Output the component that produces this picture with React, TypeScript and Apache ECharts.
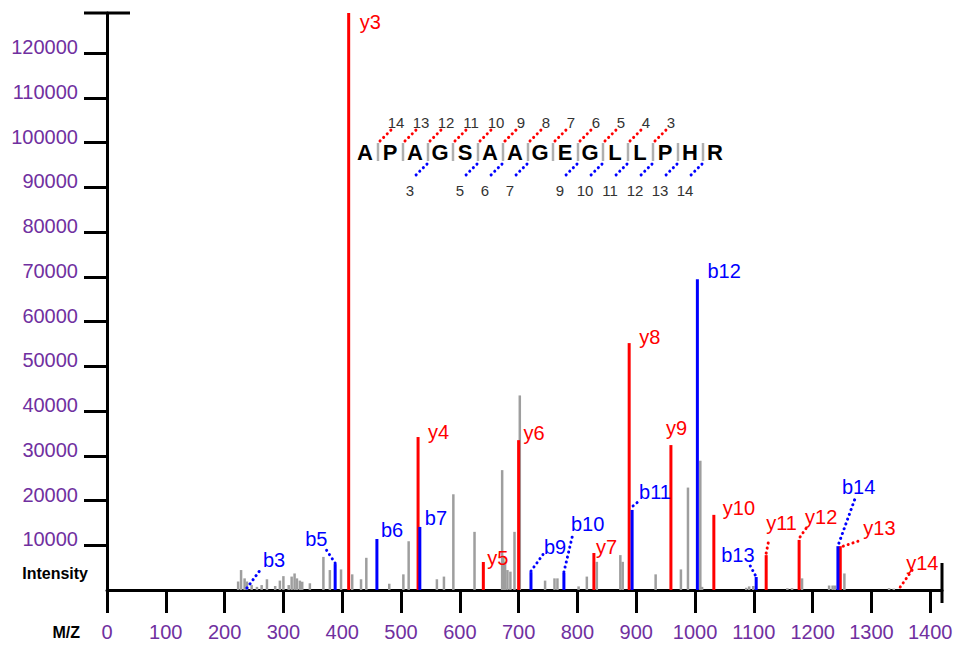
import React, { useEffect, useRef } from 'react';
import * as echarts from 'echarts';

// ---------- data ----------
const xTickValues = [0, 100, 200, 300, 400, 500, 600, 700, 800, 900, 1000, 1100, 1200, 1300, 1400];
const yTickValues = [10000, 20000, 30000, 40000, 50000, 60000, 70000, 80000, 90000, 100000, 110000, 120000];

const grayMz = [
  223, 228, 234, 238, 246, 255, 263, 272, 286, 294, 300, 309, 314, 319, 323, 328, 332, 345, 368, 379,
  398, 417, 432, 441, 480, 504, 513, 561, 573, 589, 625,
  672, 674, 677, 681, 686, 693, 702, 745, 761, 766,
  802, 816, 833, 873, 877, 933, 976, 988, 1009, 1012,
  1087, 1092, 1099, 1157, 1165, 1182, 1228, 1234, 1238, 1254, 1330, 1338,
];
const grayIntensity = [
  1900, 4460, 2600, 1900, 1100, 700, 1100, 2400, 900, 2100, 3100, 1100, 3000, 3700, 2600, 2100, 1850, 1500, 7400, 4460,
  4600, 3500, 2400, 7200, 1400, 3500, 10900, 2400, 3000, 21400, 13000,
  26800, 7400, 6300, 4460, 4100, 13000, 43500, 2100, 2600, 2600,
  800, 3000, 6300, 7800, 6300, 3500, 4600, 22900, 28900, 700,
  500, 800, 900, 400, 400, 2600, 1000, 1000, 1000, 3700, 400, 300,
];

const yIonNames = ['y3', 'y4', 'y5', 'y6', 'y7', 'y8', 'y9', 'y10', 'y11', 'y12', 'y13', 'y14'];
const yIonMz = [411, 529, 640, 700, 828, 888, 959, 1032, 1121, 1177, 1247, 1349];
const yIonIntensity = [129000, 34200, 6260, 33500, 8270, 55200, 32400, 16800, 7800, 11200, 9800, 0];

const bIonNames = ['b3', 'b5', 'b6', 'b7', 'b9', 'b10', 'b11', 'b12', 'b13', 'b14'];
const bIonMz = [238, 388, 459, 532, 721, 777, 893, 1004, 1104, 1243];
const bIonIntensity = [0, 5800, 11400, 14100, 4000, 3800, 17900, 69500, 2900, 9800];

const sequence = ['A', 'P', 'A', 'G', 'S', 'A', 'A', 'G', 'E', 'G', 'L', 'L', 'P', 'H', 'R'];
// fragment numbers at each cleavage site (between residue k and k+1)
const ySiteNumbers = [14, 13, 12, 11, 10, 9, 8, 7, 6, 5, 4, 3, null, null];
const bSiteNumbers = [null, null, 3, null, 5, 6, 7, null, 9, 10, 11, 12, 13, 14];

// ---------- label layout (pixel offsets from the peak top) ----------
const ionLabelLayout: Record<string, { dx: number; dy: number; leader?: number[] }> = {
  y3: { dx: 11, dy: 9 },
  y4: { dx: 10, dy: -5 },
  y5: { dx: 4, dy: -4 },
  y6: { dx: 5, dy: -7 },
  y7: { dx: 2, dy: -6 },
  y8: { dx: 10, dy: -6 },
  y9: { dx: -5, dy: -17 },
  y10: { dx: 9, dy: -7 },
  y11: { dx: 0, dy: -32, leader: [0, -2, 3, -17] },
  y12: { dx: 6, dy: -23, leader: [1, -3, 8, -13] },
  y13: { dx: 23, dy: -18, leader: [3, 0, 21, -6] },
  y14: { dx: 6, dy: -27, leader: [0, -3, 12, -20] },
  b3: { dx: 16, dy: -30, leader: [0, -2, 14, -21] },
  b5: { dx: -30, dy: -25, leader: [0, -1, -10, -16] },
  b6: { dx: 4, dy: -9 },
  b7: { dx: 5, dy: -9 },
  b9: { dx: 13, dy: -25, leader: [0, -1, 13, -19] },
  b10: { dx: 7, dy: -49, leader: [0, -1, 9, -39] },
  b11: { dx: 7, dy: -18, leader: [1, -4, 7, -9] },
  b12: { dx: 10, dy: -8 },
  b13: { dx: -35, dy: -22, leader: [-1, -2, -8, -15] },
  b14: { dx: 4, dy: -59, leader: [1, -3, 18, -50] },
};

const FONT = '"Liberation Sans", Arial, Helvetica, sans-serif';
const PURPLE = '#7030a0';
const RED = '#ff0000';
const BLUE = '#0000ff';
const GRAY = '#9e9e9e';

function ionRenderer(names: string[], color: string) {
  return (params: any, api: any) => {
    const i = params.dataIndex;
    const mz = api.value(0);
    const inten = api.value(1);
    const top = api.coord([mz, inten]);
    const base = api.coord([mz, 0]);
    const name = names[i];
    const lay = ionLabelLayout[name];
    const children: any[] = [
      {
        type: 'rect',
        shape: { x: top[0] - 1.5, y: top[1], width: 3, height: base[1] - top[1] },
        style: { fill: color },
      },
      {
        type: 'text',
        x: top[0] + lay.dx,
        y: top[1] + lay.dy,
        style: { text: name, fill: color, font: `20px ${FONT}`, align: 'left', verticalAlign: 'middle' },
      },
    ];
    if (lay.leader) {
      children.push({
        type: 'line',
        shape: {
          x1: top[0] + lay.leader[0],
          y1: top[1] + lay.leader[1],
          x2: top[0] + lay.leader[2],
          y2: top[1] + lay.leader[3],
        },
        style: { stroke: color, lineWidth: 3, lineDash: [0.1, 5], lineCap: 'round' },
      });
    }
    return { type: 'group', children };
  };
}

function grayRenderer(params: any, api: any) {
  const mz = api.value(0);
  const top = api.coord([mz, api.value(1)]);
  const base = api.coord([mz, 0]);
  return {
    type: 'rect',
    shape: { x: top[0] - 1.25, y: top[1], width: 2.5, height: base[1] - top[1] },
    style: { fill: GRAY },
  };
}

function peptideGraphic(): any[] {
  const x0 = 365;
  const step = 25;
  const cy = 152;
  const els: any[] = [];
  sequence.forEach((aa, i) => {
    els.push({
      type: 'text',
      x: x0 + i * step,
      y: cy,
      style: { text: aa, font: `bold 22px ${FONT}`, fill: '#000', align: 'center', verticalAlign: 'middle' },
    });
  });
  for (let k = 0; k < sequence.length - 1; k++) {
    const sx = x0 + k * step + 13;
    els.push({
      type: 'line',
      shape: { x1: sx, y1: 143, x2: sx, y2: 161 },
      style: { stroke: '#b0b0b0', lineWidth: 2.5 },
    });
    const yn = ySiteNumbers[k];
    if (yn !== null) {
      els.push({
        type: 'line',
        shape: { x1: sx + 2, y1: 141, x2: sx + 15, y2: 128 },
        style: { stroke: RED, lineWidth: 3, lineDash: [0.1, 5], lineCap: 'round' },
      });
      els.push({
        type: 'text',
        x: sx + 18,
        y: 122,
        style: { text: String(yn), font: `15px ${FONT}`, fill: '#333', align: 'center', verticalAlign: 'middle' },
      });
    }
    const bn = bSiteNumbers[k];
    if (bn !== null) {
      els.push({
        type: 'line',
        shape: { x1: sx - 1, y1: 164, x2: sx - 15, y2: 178 },
        style: { stroke: BLUE, lineWidth: 3, lineDash: [0.1, 5], lineCap: 'round' },
      });
      els.push({
        type: 'text',
        x: sx - 18,
        y: 190,
        style: { text: String(bn), font: `15px ${FONT}`, fill: '#333', align: 'center', verticalAlign: 'middle' },
      });
    }
  }
  return els;
}

export default function App() {
  const ref = useRef<HTMLDivElement>(null);
  useEffect(() => {
    if (!ref.current) return;
    const chart = echarts.init(ref.current, undefined, { renderer: 'svg' });
    const option: any = {
      animation: false,
      backgroundColor: '#ffffff',
      grid: { left: 107, top: 13, width: 835, height: 577 },
      xAxis: {
        type: 'value',
        min: 0,
        max: 1420,
        splitLine: { show: false },
        axisLine: { show: true, lineStyle: { color: '#000', width: 3 } },
        axisTick: { show: true, customValues: xTickValues, length: 23, lineStyle: { color: '#000', width: 3 } },
        axisLabel: {
          customValues: xTickValues,
          formatter: (v: number) => String(v),
          color: PURPLE,
          fontSize: 20,
          fontFamily: FONT,
          margin: 32,
        },
      },
      yAxis: {
        type: 'value',
        min: 0,
        max: 129000,
        splitLine: { show: false },
        axisLine: { show: true, lineStyle: { color: '#000', width: 3 } },
        axisTick: { show: true, customValues: yTickValues, length: 23, lineStyle: { color: '#000', width: 3 } },
        axisLabel: {
          customValues: yTickValues,
          formatter: (v: number) => String(v),
          color: PURPLE,
          fontSize: 20,
          fontFamily: FONT,
          margin: 29,
          verticalAlign: 'bottom',
          lineHeight: 12,
        },
      },
      series: [
        {
          type: 'custom',
          name: 'other',
          clip: false,
          z: 1,
          renderItem: grayRenderer,
          encode: { x: 0, y: 1 },
          data: grayMz.map((m, i) => [m, grayIntensity[i]]),
        },
        {
          type: 'custom',
          name: 'y ions',
          clip: false,
          z: 2,
          renderItem: ionRenderer(yIonNames, RED),
          encode: { x: 0, y: 1 },
          data: yIonMz.map((m, i) => [m, yIonIntensity[i]]),
        },
        {
          type: 'custom',
          name: 'b ions',
          clip: false,
          z: 3,
          renderItem: ionRenderer(bIonNames, BLUE),
          encode: { x: 0, y: 1 },
          data: bIonMz.map((m, i) => [m, bIonIntensity[i]]),
        },
      ],
      graphic: [
        { type: 'line', shape: { x1: 84, y1: 13, x2: 130, y2: 13 }, style: { stroke: '#000', lineWidth: 3 } },
        { type: 'line', shape: { x1: 942, y1: 563, x2: 942, y2: 603 }, style: { stroke: '#000', lineWidth: 3 } },
        {
          type: 'text',
          x: 88,
          y: 573,
          style: { text: 'Intensity', font: `bold 16px ${FONT}`, fill: '#000', align: 'right', verticalAlign: 'middle' },
        },
        {
          type: 'text',
          x: 80,
          y: 632,
          style: { text: 'M/Z', font: `bold 16px ${FONT}`, fill: '#000', align: 'right', verticalAlign: 'middle' },
        },
        ...peptideGraphic(),
      ],
    };
    chart.setOption(option);
    return () => chart.dispose();
  }, []);
  return (
    <div
      ref={ref}
      style={{ position: 'absolute', left: 0, top: 0, width: 971, height: 646, background: '#fff' }}
    />
  );
}
